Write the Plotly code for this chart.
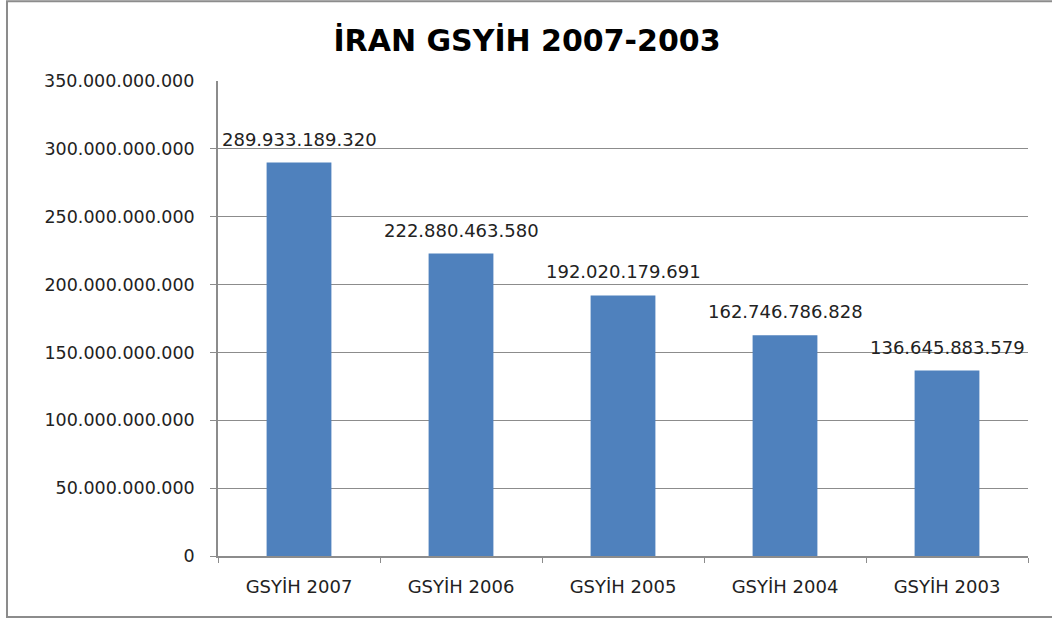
import plotly.graph_objects as go

# Dati
kategoriler = ["GSYİH 2007", "GSYİH 2006", "GSYİH 2005", "GSYİH 2004", "GSYİH 2003"]
gsyih = [289933189320, 222880463580, 192020179691, 162746786828, 136645883579]
y_ticks = [0, 50e9, 100e9, 150e9, 200e9, 250e9, 300e9]
y_max = 350e9

def fmt(v):
    return f"{int(v):,}".replace(",", ".")

font_ana = "DejaVu Sans"
gri = "#8c8c8c"

fig = go.Figure()
fig.add_trace(go.Bar(
    x=kategoriler, y=gsyih,
    marker=dict(color="#4f81bd", line=dict(width=0)),
    width=0.4,
))

# Etiketi sopra le barre
for k, v in zip(kategoriler, gsyih):
    fig.add_annotation(x=k, y=v, text=fmt(v), showarrow=False,
                       yanchor="bottom", yshift=11,
                       font=dict(family=font_ana, size=18, color="#222"))

# 350 etichetta (senza griglia)
fig.add_annotation(x=0, xref="paper", y=y_max, text=fmt(y_max), showarrow=False,
                   xanchor="right", xshift=-22,
                   font=dict(family=font_ana, size=17.5, color="#222"))

# Cornice
fig.add_shape(type="rect", xref="paper", yref="paper",
              x0=-0.2605, x1=1.1, y0=-0.1284, y1=1.168,
              line=dict(color=gri, width=2), layer="below")

fig.update_layout(
    width=1052, height=620,
    margin=dict(l=218, r=24, t=81, b=64),
    paper_bgcolor="white", plot_bgcolor="white",
    separators=",.",
    showlegend=False,
    font=dict(family=font_ana, color="#222"),
    title=dict(text="<b>İRAN GSYİH 2007-2003</b>", x=527 / 1052, xref="container",
               xanchor="center", y=1 - 40 / 620, yanchor="middle",
               font=dict(family=font_ana, size=30, color="black")),
    bargap=0.6,
)
fig.update_xaxes(
    showline=True, linecolor=gri, linewidth=1.5,
    ticks="outside", tickson="boundaries", ticklen=5, tickcolor=gri,
    tickfont=dict(family=font_ana, size=18, color="#222"),
    ticklabelstandoff=14,
)
fig.update_yaxes(
    range=[0, y_max], tickvals=y_ticks, tickformat=",.0f",
    showline=True, linecolor=gri, linewidth=1.5,
    showgrid=True, gridcolor=gri, gridwidth=1, zeroline=False,
    ticks="outside", ticklen=6, tickcolor=gri,
    tickfont=dict(family=font_ana, size=17.5, color="#222"),
    ticklabelstandoff=12,
)

fig.write_html("out.html", config={"displayModeBar": False},
               post_script="document.body.style.margin='0';")
